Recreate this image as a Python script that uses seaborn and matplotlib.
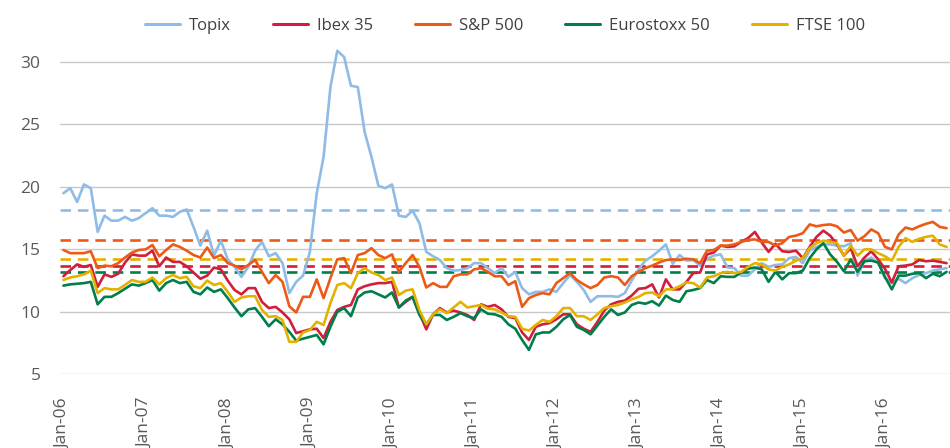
import matplotlib
matplotlib.use("Agg")
import matplotlib.pyplot as plt
import seaborn as sns
import pandas as pd
import numpy as np

# ---- data (monthly, Jan-06 .. Oct-16) ----
topix = [19.5, 19.9, 18.8, 20.2, 19.9, 16.4, 17.7, 17.3, 17.3, 17.6,
         17.3, 17.5, 17.9, 18.3, 17.7, 17.7, 17.6, 18.0, 18.2, 16.8,
         15.3, 16.5, 14.5, 15.7, 14.2, 13.6, 12.8, 13.6, 14.9, 15.6,
         14.45, 14.7, 13.9, 11.5, 12.4, 12.9, 14.8, 19.5, 22.4, 28.0,
         30.9, 30.4, 28.1, 28.0, 24.4, 22.4, 20.1, 19.9, 20.2, 17.7,
         17.6, 18.1, 17.1, 14.8, 14.45, 14.15, 13.5, 13.3, 13.35, 13.5,
         13.9, 13.9, 13.5, 13.1, 13.5, 12.8, 13.2, 11.9, 11.4, 11.6,
         11.6, 11.8, 11.6, 12.3, 12.95, 12.4, 11.75, 10.8, 11.25, 11.25,
         11.25, 11.2, 11.5, 12.5, 13.4, 14.1, 14.45, 14.9, 15.4, 13.85,
         14.55, 14.1, 14.15, 13.7, 14.25, 14.5, 14.6, 13.55, 13.5, 12.9,
         12.9, 13.4, 13.9, 13.6, 13.75, 13.8, 14.3, 14.4, 13.9, 14.9,
         15.2, 15.4, 15.4, 15.3, 15.25, 15.5, 12.9, 14.1, 14.35, 13.9,
         12.7, 12.3, 12.65, 12.3, 12.7, 12.95, 13.1, 13.3, 13.4, 13.5]

ibex = [12.85, 13.35, 13.8, 13.6, 13.75, 12.0, 13.0, 12.8, 13.05, 13.95,
        14.6, 14.5, 14.5, 14.9, 13.65, 14.35, 14.0, 14.0, 13.65, 13.15,
        12.65, 12.9, 13.55, 13.4, 12.5, 11.75, 11.4, 11.9, 11.9, 10.8,
        10.3, 10.4, 9.95, 9.4, 8.3, 8.45, 8.6, 8.65, 7.9, 9.2,
        10.15, 10.4, 10.55, 11.8, 12.05, 12.2, 12.3, 12.3, 12.4, 10.35,
        10.8, 11.2, 9.9, 8.6, 9.8, 10.3, 9.95, 10.1, 9.95, 9.75,
        9.35, 10.6, 10.4, 10.55, 10.2, 9.6, 9.5, 8.35, 7.75, 8.8,
        9.0, 9.1, 9.4, 9.8, 9.8, 9.0, 8.65, 8.4, 9.2, 10.1,
        10.6, 10.8, 10.9, 11.3, 11.85, 11.9, 12.2, 11.15, 12.6, 11.8,
        11.8, 12.4, 13.1, 13.15, 14.6, 14.75, 15.3, 15.2, 15.25, 15.6,
        15.9, 16.4, 15.55, 14.8, 15.45, 14.85, 14.8, 14.9, 14.3, 15.2,
        16.0, 16.5, 16.1, 15.4, 14.5, 15.1, 13.65, 14.35, 14.85, 14.2,
        13.45, 12.35, 13.65, 13.7, 13.8, 14.15, 14.05, 14.1, 14.0, 13.9]

sp500 = [14.95, 14.7, 14.7, 14.7, 14.85, 13.5, 13.7, 13.65, 13.9, 14.35,
         14.75, 14.95, 15.0, 15.35, 14.45, 14.95, 15.4, 15.2, 14.9, 14.55,
         14.35, 15.15, 14.3, 14.55, 13.9, 13.7, 13.4, 13.75, 14.15, 13.2,
         12.3, 12.95, 12.4, 10.45, 9.95, 11.2, 11.2, 12.6, 11.1, 12.7,
         14.2, 14.3, 13.1, 14.55, 14.7, 15.1, 14.55, 14.3, 14.6, 13.2,
         13.9, 14.55, 13.6, 11.95, 12.3, 12.0, 12.0, 12.85, 13.0, 13.0,
         13.4, 13.5, 13.2, 12.85, 12.85, 12.15, 12.45, 10.4, 11.1, 11.35,
         11.5, 11.4, 12.3, 12.7, 13.1, 12.55, 12.2, 11.9, 12.15, 12.75,
         12.85, 12.75, 12.15, 12.85, 13.2, 13.5, 13.7, 13.95, 14.15, 14.2,
         14.15, 14.25, 14.2, 13.9, 14.9, 14.95, 15.3, 15.3, 15.4, 15.6,
         15.75, 15.8, 15.6, 15.6, 15.3, 15.5, 16.0, 16.1, 16.3, 17.0,
         16.85, 16.95, 17.0, 16.85, 16.35, 16.55, 15.7, 16.05, 16.6, 16.3,
         15.2, 15.0, 16.2, 16.75, 16.6, 16.85, 17.05, 17.2, 16.8, 16.7]

eurostoxx = [12.1, 12.2, 12.25, 12.3, 12.4, 10.6, 11.2, 11.2, 11.5, 11.85,
             12.2, 12.1, 12.3, 12.55, 11.7, 12.3, 12.55, 12.3, 12.4, 11.6,
             11.4, 11.95, 11.6, 11.8, 11.1, 10.35, 9.65, 10.2, 10.3, 9.6,
             8.85, 9.4, 9.0, 8.4, 7.7, 7.85, 8.0, 8.15, 7.4, 8.8,
             10.0, 10.3, 9.65, 11.15, 11.55, 11.65, 11.4, 11.15, 11.55, 10.35,
             10.9, 11.2, 9.75, 9.0, 9.75, 9.75, 9.35, 9.6, 9.9, 9.65,
             9.5, 10.2, 9.85, 9.8, 9.6, 9.0, 8.65, 7.75, 6.95, 8.2,
             8.35, 8.35, 8.8, 9.4, 9.75, 8.8, 8.55, 8.2, 8.9, 9.6,
             10.2, 9.75, 9.95, 10.55, 10.75, 10.65, 10.85, 10.5, 11.3, 10.95,
             10.8, 11.65, 11.75, 11.9, 12.55, 12.3, 12.85, 12.8, 12.8, 13.15,
             13.45, 13.55, 13.4, 12.4, 13.2, 12.6, 13.1, 13.1, 13.3, 14.3,
             15.0, 15.5, 14.6, 14.0, 13.25, 14.2, 13.2, 14.05, 14.1, 13.95,
             12.8, 11.8, 12.9, 12.9, 13.05, 13.1, 12.7, 13.05, 12.85, 13.2]

ftse = [12.55, 12.75, 12.85, 13.0, 13.3, 11.5, 11.9, 11.8, 11.8, 12.15,
        12.55, 12.4, 12.4, 12.75, 12.2, 12.7, 12.95, 12.7, 12.8, 12.05,
        11.9, 12.5, 12.15, 12.3, 11.6, 10.8, 11.15, 11.25, 11.25, 10.15,
        9.6, 9.65, 9.35, 7.6, 7.6, 8.35, 8.55, 9.2, 8.95, 10.7,
        12.15, 12.3, 11.9, 13.1, 13.5, 13.15, 12.95, 12.55, 12.75, 11.35,
        11.7, 11.8, 10.15, 9.0, 9.8, 10.2, 9.9, 10.35, 10.8, 10.35,
        10.45, 10.55, 10.25, 10.2, 9.95, 9.65, 9.6, 8.65, 8.5, 8.95,
        9.35, 9.2, 9.65, 10.3, 10.3, 9.65, 9.65, 9.35, 9.8, 10.3,
        10.45, 10.55, 10.75, 11.0, 11.2, 11.5, 11.55, 11.25, 11.8, 11.8,
        12.05, 12.35, 12.3, 11.95, 12.75, 12.85, 13.1, 13.2, 13.1, 13.2,
        13.6, 13.9, 13.8, 13.4, 13.3, 13.6, 13.8, 14.1, 14.3, 15.1,
        15.5, 15.7, 15.6, 15.5, 14.5, 15.3, 14.5, 15.0, 15.0, 14.7,
        14.45, 14.1, 15.2, 15.9, 15.6, 15.85, 16.0, 16.1, 15.4, 15.2]

series_names = ["Topix", "Ibex 35", "S&P 500", "Eurostoxx 50", "FTSE 100"]
averages = [18.15, 13.67, 15.73, 13.19, 14.25]   # long-run averages (dashed)
tick_labels = ["Jan-06", "Jan-07", "Jan-08", "Jan-09", "Jan-10", "Jan-11",
               "Jan-12", "Jan-13", "Jan-14", "Jan-15", "Jan-16"]
y_ticks = [5, 10, 15, 20, 25, 30]

colors = ["#8EBCE6", "#D01F3C", "#EC5A17", "#007F4A", "#E3B100"]

# ---- build long table ----
n = len(topix)
wide = pd.DataFrame({"month": np.arange(n),
                     "Topix": topix, "Ibex 35": ibex, "S&P 500": sp500,
                     "Eurostoxx 50": eurostoxx, "FTSE 100": ftse})
long = wide.melt(id_vars="month", var_name="index", value_name="value")

sns.set_style("white")
plt.rcParams["font.family"] = ["Open Sans", "DejaVu Sans"]

fig = plt.figure(figsize=(9.5, 4.48), dpi=100)
ax = fig.add_axes([60 / 950, 73.7 / 448, 890 / 950, (374.3 - 43.3) / 448])

# gridlines
for yt in y_ticks:
    ax.axhline(yt, color="#C8C8C8", lw=1.0, zorder=0)

# dashed long-run averages
for avg, col in zip(averages, colors):
    ax.axhline(avg, color=col, lw=1.9, ls=(0, (4, 2.6)), zorder=1)

sns.lineplot(data=long, x="month", y="value", hue="index",
             hue_order=series_names, palette=dict(zip(series_names, colors)),
             linewidth=1.9, ax=ax, zorder=2, legend=True)

ax.set_xlim(-0.5, n - 0.5)
ax.set_ylim(5, 31.5)
ax.set_yticks(y_ticks)
ax.set_yticklabels([str(v) for v in y_ticks])
ax.set_xticks(np.arange(0, n, 12)[:len(tick_labels)])
ax.set_xticklabels(tick_labels, rotation=90, va="top", ha="center")
ax.tick_params(axis="x", length=0, pad=17, labelsize=12.5, colors="#595959")
ax.tick_params(axis="y", length=0, pad=14, labelsize=12.5, colors="#595959")
ax.set_xlabel("")
ax.set_ylabel("")
for s in ax.spines.values():
    s.set_visible(False)

leg = ax.legend(loc="center", bbox_to_anchor=(0.5, (448 - 26 - 73.7) / (374.3 - 43.3)),
                ncol=5, frameon=False, fontsize=12, handlelength=2.1,
                handletextpad=0.55, columnspacing=2.5)
for t in leg.get_texts():
    t.set_color("#404040")
for h in leg.get_lines():
    h.set_linewidth(2.2)

fig.savefig("out.png", dpi=100)
